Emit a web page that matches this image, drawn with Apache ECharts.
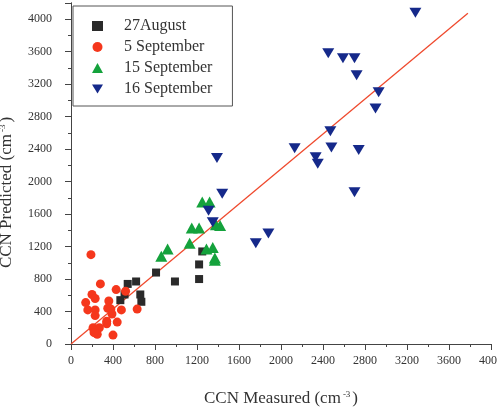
<!DOCTYPE html>
<html>
<head>
<meta charset="utf-8">
<script src="https://cdn.jsdelivr.net/npm/echarts@6/dist/echarts.min.js"></script>
<style>
  html, body { margin: 0; padding: 0; background: #fff; }
  #chart { width: 497px; height: 414px; }
</style>
</head>
<body>
<div id="chart"></div>
<script>
// 数据：[测量值, 预测值]
var aug27 = [
  [470, 540], [510, 610], [540, 740], [620, 770], [660, 610], [670, 520],
  [810, 880], [990, 770], [1220, 980], [1220, 800], [1250, 1140]
];
var sep5 = [
  [190, 1100], [280, 740], [200, 610], [230, 560], [140, 510], [160, 420],
  [230, 420], [230, 350], [360, 530], [350, 440], [380, 430], [390, 370],
  [340, 280], [340, 250], [430, 670], [520, 650], [480, 420], [630, 430],
  [440, 270], [400, 110], [210, 200], [270, 200], [220, 160], [250, 120],
  [220, 140]
];
var sep15 = [
  [1250, 1750], [1320, 1750], [1150, 1430], [1220, 1430], [1380, 1470],
  [1420, 1460], [1130, 1240], [920, 1170], [860, 1080], [1290, 1170],
  [1350, 1190], [1370, 1060], [1370, 1030]
];
var sep16 = [
  [3280, 4080], [2450, 3580], [2590, 3520], [2700, 3520], [2720, 3310],
  [2930, 3100], [2900, 2900], [2470, 2620], [2740, 2390], [2480, 2420],
  [2130, 2410], [2330, 2300], [2350, 2220], [2700, 1870], [1760, 1240],
  [1880, 1360], [1390, 2290], [1440, 1850], [1310, 1640], [1350, 1500]
];
var fitLine = [[0, 0], [3780, 4075]];
var xTicks = [0, 4000, 400];
var yTicks = [0, 4200, 400];

var serif = "Liberation Serif";
var downTri = "path://M0,0L12,0L6,10Z";

var chart = echarts.init(document.getElementById("chart"));

var baseAxis = function(pos, range) {
  return {
    type: "value",
    position: pos,
    min: range[0],
    max: range[1],
    interval: range[2],
    axisLine: { show: true, lineStyle: { color: "#444", width: 1 } },
    axisTick: { show: true, length: 6, lineStyle: { color: "#444" } },
    minorTick: { show: true, splitNumber: 2, length: 3, lineStyle: { color: "#444" } },
    splitLine: { show: false },
    axisLabel: {
      show: true, fontFamily: serif, fontSize: 12, color: "#333",
      formatter: function(v) { return String(v); }
    }
  };
};

var x0 = baseAxis("bottom", xTicks);
x0.axisLabel.margin = 11;
x0.name = "{a|CCN Measured (cm}{s|-3}{a|)}";
x0.nameLocation = "middle";
x0.nameGap = 46;
x0.nameTextStyle = {
  rich: {
    a: { fontFamily: serif, fontSize: 17, color: "#333" },
    s: { fontFamily: serif, fontSize: 9, color: "#333", verticalAlign: "top", padding: [0, 2, 8, 2] }
  }
};
var x1 = baseAxis("top", xTicks);
x1.axisTick.inside = true;
x1.minorTick.show = false;
x1.axisTick.length = 4;
x1.axisLabel.show = false;

var y0 = baseAxis("left", yTicks);
y0.axisLabel.margin = 19;
y0.axisLabel.showMaxLabel = false;
y0.name = "{a|CCN Predicted (cm}{s|-3}{a|)}";
y0.nameLocation = "middle";
y0.nameRotate = 90;
y0.nameGap = 56;
y0.nameTextStyle = {
  padding: [0, 38, 0, 0],
  rich: {
    a: { fontFamily: serif, fontSize: 17, color: "#333" },
    s: { fontFamily: serif, fontSize: 9, color: "#333", verticalAlign: "top", padding: [0, 2, 8, 2] }
  }
};
var y1 = baseAxis("right", yTicks);
y1.axisTick.inside = true;
y1.axisTick.length = 4;
y1.minorTick.show = false;
y1.axisLabel.show = false;

var option = {
  animation: false,
  backgroundColor: "#fff",
  grid: { left: 71, right: 6, top: 3, bottom: 70, containLabel: false, outerBoundsMode: "none" },
  legend: {
    orient: "vertical",
    left: 73,
    top: 6,
    padding: [12, 20, 9, 19],
    itemGap: 5,
    itemWidth: 11,
    itemHeight: 10,
    borderColor: "#555",
    borderWidth: 1,
    borderRadius: 0,
    backgroundColor: "#fff",
    textStyle: { fontFamily: serif, fontSize: 16, color: "#333", padding: [0, 0, 0, 16], lineHeight: 14 },
    data: ["27August", "5 September", "15 September", "16 September"]
  },
  xAxis: [x0, x1],
  yAxis: [y0, y1],
  series: [
    {
      name: "fit",
      type: "line",
      data: fitLine,
      symbol: "none",
      lineStyle: { color: "#ef4a2e", width: 1.3 },
      z: 1
    },
    {
      name: "27August",
      type: "scatter",
      data: aug27,
      symbol: "rect",
      symbolSize: 8,
      itemStyle: { color: "#2a2a2a", opacity: 1 },
      z: 3
    },
    {
      name: "5 September",
      type: "scatter",
      data: sep5,
      symbol: "circle",
      symbolSize: 9,
      itemStyle: { color: "#f5371c", opacity: 1 },
      z: 3
    },
    {
      name: "15 September",
      type: "scatter",
      data: sep15,
      symbol: "triangle",
      symbolSize: [12, 11],
      itemStyle: { color: "#14a23c", opacity: 1 },
      z: 3
    },
    {
      name: "16 September",
      type: "scatter",
      data: sep16,
      symbol: downTri,
      symbolSize: [12, 10],
      itemStyle: { color: "#15298a", opacity: 1 },
      z: 3
    }
  ]
};
chart.setOption(option);
</script>
</body>
</html>
